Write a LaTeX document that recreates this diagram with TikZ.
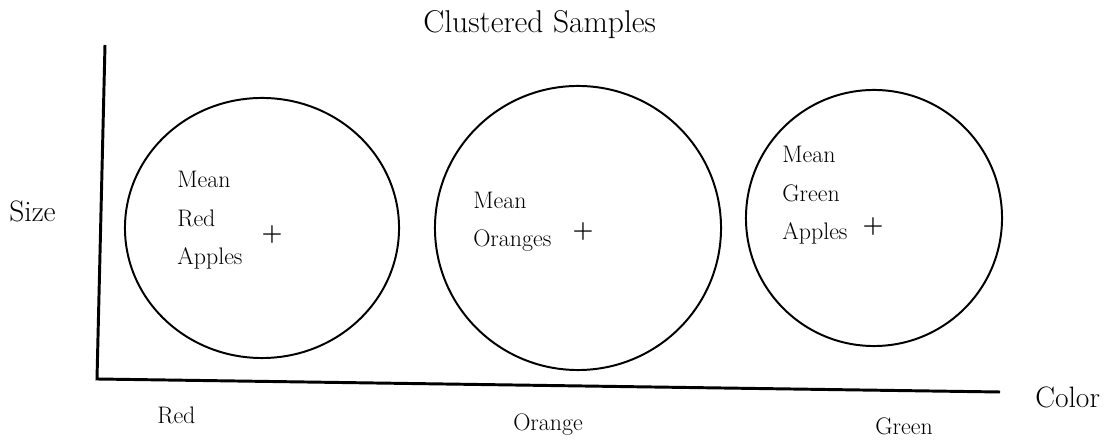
\documentclass[tikz,border=0pt]{standalone}
\usepackage{tikz}
\usetikzlibrary{shapes.geometric}

\begin{document}
\begin{tikzpicture}[
  x=0.025cm, y=-0.025cm,
  cluster/.style={draw, ellipse, line width=1.4pt, inner sep=0pt},
  big/.style={anchor=base west, inner sep=0pt, font=\fontsize{21}{25}\selectfont},
  tick/.style={anchor=base west, inner sep=0pt, font=\fontsize{17}{20}\selectfont},
  lbl/.style={anchor=base west, inner sep=0pt, align=left, font=\fontsize{17}{27.7}\selectfont},
  mean/.style={inner sep=0pt, font=\fontsize{17}{20}\selectfont\bfseries},
  axis/.style={line width=2.1pt}
]
\useasboundingbox (0,0) rectangle (1120,444);

\node (title) [big, font=\fontsize{22.4}{26}\selectfont] at (423,33) {Clustered Samples};

% axes
\coordinate (top) at (105,45);
\coordinate (origin) at (97,379);
\coordinate (right) at (1000,392);
\draw[axis] (top) -- (origin) -- (right);

\node (size)  [big] at (9,222)    {Size};
\node (color) [big] at (1035,408) {Color};
\node (red)    [tick] at (157,424) {Red};
\node (orange) [tick] at (513,431) {Orange};
\node (green)  [tick] at (875,435) {Green};

% clusters
\node (redapples)   [cluster, minimum width=6.85cm, minimum height=6.5cm] at (262,228) {};
\node (oranges)     [cluster, minimum width=7.15cm, minimum height=7.1cm] at (578,228) {};
\node (greenapples) [cluster, minimum width=6.4cm, minimum height=6.4cm] at (874,218) {};

% base anchor sits on the last line
\node (lredapples)   [lbl] at (177,265) {Mean\\Red\\Apples};
\node (loranges)     [lbl] at (473,247) {Mean\\Oranges};
\node (lgreenapples) [lbl] at (782,240) {Mean\\Green\\Apples};

\node (mred)    [mean] at (272,235) {+};
\node (morange) [mean] at (583,232) {+};
\node (mgreen)  [mean] at (873,227) {+};
\end{tikzpicture}
\end{document}
